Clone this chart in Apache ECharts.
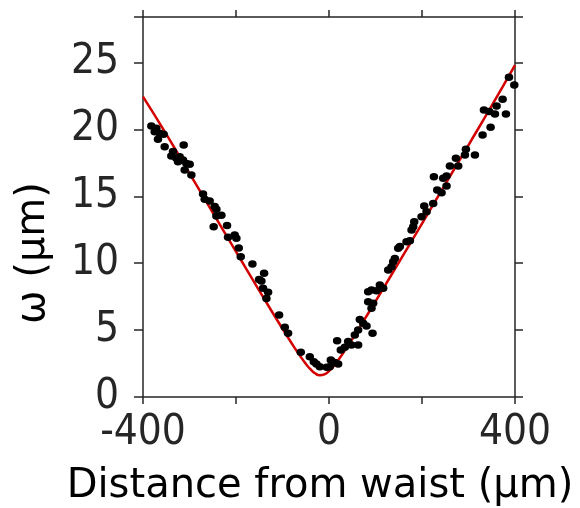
<!DOCTYPE html>
<html>
<head>
<meta charset="utf-8">
<script src="https://cdn.jsdelivr.net/npm/echarts@6/dist/echarts.min.js"></script>
<style>
  html, body { margin: 0; padding: 0; background: #fff; }
  #main { width: 580px; height: 508px; }
</style>
</head>
<body>
<div id="main"></div>
<script>
// measured beam radius vs distance from waist
var pointX = [
  -382.1, -371.4, -374.9, -364.2, -355.6, -367.8, -353.4, -312.5, -335.5, -339.1,
  -328.3, -321.1, -324.7, -314.0, -306.8, -299.6, -310.4, -296.0, -270.9, -267.3,
  -256.6, -245.8, -242.2, -242.2, -231.4, -248.0, -219.3, -217.1, -202.8, -199.2,
  -194.1, -189.8, -164.7, -139.6, -150.4, -145.4, -141.8, -131.0, -134.6, -107.3,
  -95.1, -88.0, -60.7, -41.3, -32.7, -27.0, -19.8, -5.0, 1.7, 3.9,
  12.5, 19.7, 17.5, 25.4, 34.0, 41.2, 48.4, 62.7, 55.5, 62.7,
  66.3, 73.5, 80.7, 93.6, 91.4, 95.0, 84.2, 84.2, 91.4, 102.2,
  109.3, 116.5, 127.3, 134.5, 138.0, 141.6, 148.8, 152.4, 166.7, 173.9,
  177.5, 183.3, 181.1, 199.0, 209.8, 204.8, 224.1, 232.7, 242.1, 252.8,
  245.6, 252.8, 225.6, 260.0, 277.9, 272.9, 292.3, 294.4, 313.8, 330.3,
  347.5, 333.2, 344.7, 360.4, 356.9, 373.4, 380.5, 387.0, 398.5
];
var pointY = [
  20.25, 20.08, 19.83, 19.71, 19.63, 19.26, 18.71, 18.83, 18.34, 18.01,
  17.84, 17.96, 17.59, 17.71, 17.46, 17.39, 16.97, 16.59, 15.17, 14.77,
  14.65, 14.23, 14.03, 13.53, 13.58, 12.73, 12.81, 11.93, 12.11, 11.86,
  11.14, 10.49, 9.94, 9.24, 8.79, 8.67, 8.12, 7.82, 7.37, 6.13,
  5.21, 4.76, 3.34, 3.01, 2.64, 2.47, 2.27, 2.22, 2.27, 2.77,
  2.57, 2.47, 4.21, 3.51, 3.71, 4.14, 3.89, 3.89, 4.63, 5.01,
  5.80, 5.51, 5.31, 4.76, 6.63, 7.00, 7.12, 7.87, 8.00, 7.95,
  8.37, 8.12, 9.49, 9.74, 10.11, 10.36, 11.11, 11.24, 11.61, 11.68,
  12.48, 13.10, 12.73, 13.48, 13.85, 14.28, 14.47, 15.47, 15.27, 15.77,
  16.34, 16.52, 16.47, 17.26, 17.26, 17.84, 18.09, 18.51, 18.09, 19.58,
  20.16, 21.45, 21.33, 21.75, 21.15, 22.25, 21.15, 23.89, 23.32
];

// red fitted curve
var fitX = [-400, -350, -300, -250, -200, -150, -100, -80, -60, -50, -40, -30, -20, -10,
  0, 10, 20, 30, 50, 75, 100, 150, 200, 250, 300, 350, 400];
var fitY = [22.45, 19.65, 16.72, 13.78, 10.86, 7.95, 5.10, 4.00, 2.96, 2.49, 2.08, 1.77, 1.62, 1.69,
  1.94, 2.31, 2.77, 3.26, 4.33, 5.72, 7.15, 10.04, 12.96, 15.90, 18.83, 21.77, 24.80];

var xTicks = [-400, -200, 0, 200, 400];
var xLabels = [-400, 0, 400];
var yTicks = [0, 5, 10, 15, 20, 25, 28.4];
var yLabels = [0, 5, 10, 15, 20, 25];

var chart = echarts.init(document.getElementById("main"));

var axisColor = "#262626";
var tickFont = "'DejaVu Sans Condensed', 'DejaVu Sans', sans-serif";

var points = pointX.map(function (x, i) { return [x, pointY[i]]; });
var fit = fitX.map(function (x, i) { return [x, fitY[i]]; });

function xAxisOf(pos, withLabels) {
  return {
    type: "value",
    position: pos,
    min: -400,
    max: 400,
    interval: 200,
    axisLine: { show: true, onZero: false, lineStyle: { color: axisColor, width: 1.5 } },
    axisTick: { show: true, inside: false, length: 7, customValues: xTicks,
      lineStyle: { color: axisColor, width: 1.5 } },
    axisLabel: { show: withLabels, customValues: xLabels, margin: 15,
      color: axisColor, fontSize: 42, fontFamily: tickFont },
    splitLine: { show: false }
  };
}

function yAxisOf(pos, withLabels) {
  return {
    type: "value",
    position: pos,
    min: 0,
    max: 28.4,
    interval: 5,
    axisLine: { show: true, onZero: false, lineStyle: { color: axisColor, width: 1.5 } },
    axisTick: { show: true, inside: false, length: 8, customValues: yTicks,
      lineStyle: { color: axisColor, width: 1.5 } },
    axisLabel: { show: withLabels, customValues: yLabels, margin: 24,
      color: axisColor, fontSize: 42, fontFamily: tickFont },
    splitLine: { show: false }
  };
}

var xBottom = xAxisOf("bottom", true);
xBottom.name = "Distance from waist (µm)";
xBottom.nameLocation = "middle";
xBottom.nameGap = 70;
xBottom.nameTextStyle = { color: "#000", fontSize: 40, fontFamily: "'DejaVu Sans', sans-serif",
  padding: [0, 18, 0, 0] };

var yLeft = yAxisOf("left", true);
yLeft.axisTick.length = 9;
yLeft.name = "ω (µm)";
yLeft.nameLocation = "middle";
yLeft.nameGap = 89;
yLeft.nameTextStyle = { color: "#000", fontSize: 40, fontFamily: "'DejaVu Sans', sans-serif",
  padding: [0, 92, 0, 0] };

var option = {
  backgroundColor: "#fff",
  animation: false,
  grid: { left: 143, right: 65, top: 17, bottom: 111, outerBoundsMode: "none" },
  xAxis: [xBottom, xAxisOf("top", false)],
  yAxis: [yLeft, yAxisOf("right", false)],
  series: [
    {
      type: "line",
      data: fit,
      smooth: true,
      showSymbol: false,
      clip: true,
      lineStyle: { color: "#d40000", width: 2.5 },
      z: 2
    },
    {
      type: "scatter",
      data: points,
      symbol: "circle",
      symbolSize: [8.5, 7.5],
      itemStyle: { color: "#000", opacity: 1 },
      clip: true,
      z: 3
    }
  ]
};

chart.setOption(option);
</script>
</body>
</html>
